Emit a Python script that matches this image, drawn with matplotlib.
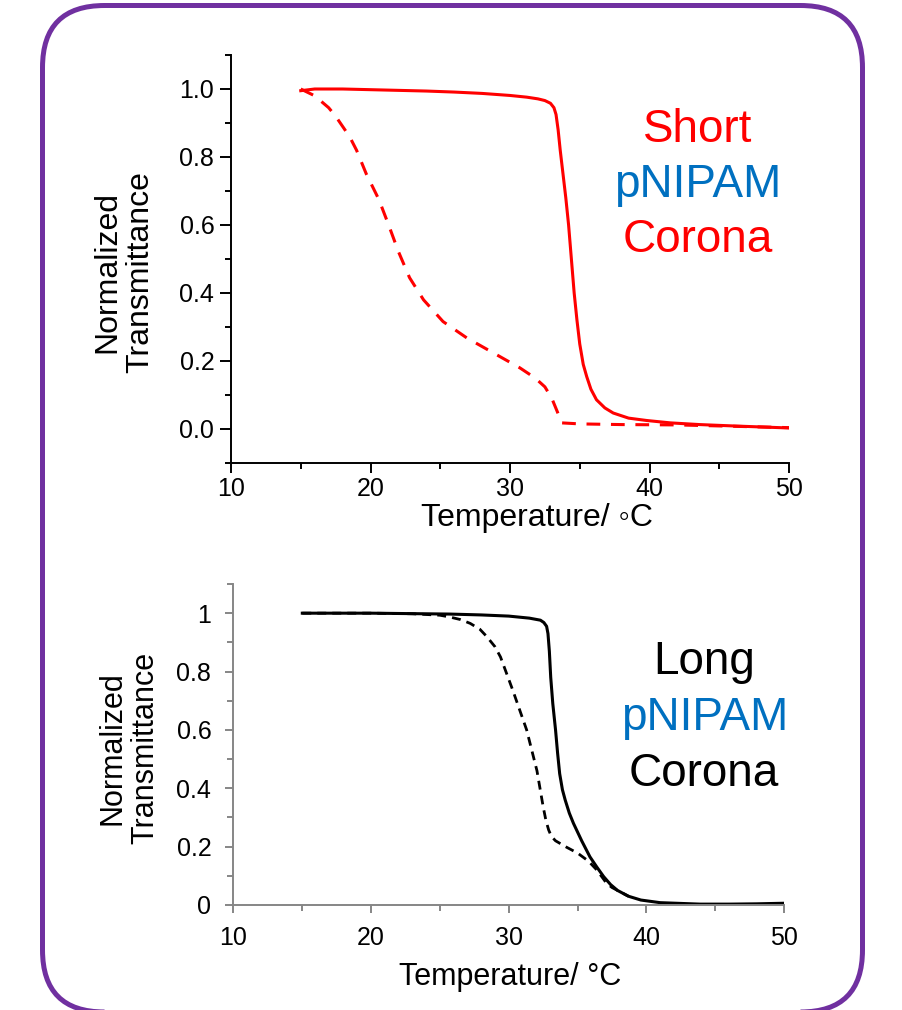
import numpy as np
import matplotlib
matplotlib.use("Agg")
import matplotlib.pyplot as plt
from matplotlib.patches import FancyBboxPatch
from matplotlib.ticker import MultipleLocator, FuncFormatter

plt.rcParams['font.family'] = ['Liberation Sans', 'DejaVu Sans']

# kisa korona: surekli (isitma) ve kesikli (sogutma) egriler
kisa_T_duz = [15, 16, 18, 20, 22, 24, 26, 28, 30, 31.2, 32.0, 32.5, 32.9, 33.15, 33.3, 33.45,
              33.6, 33.8, 34.0, 34.2, 34.4, 34.6, 34.8, 35.0, 35.25, 35.5, 35.8, 36.2, 36.8,
              37.4, 38.5, 39.8, 41.5, 43.6, 46, 48, 50]
kisa_deger_duz = [0.995, 1.0, 1.0, 0.998, 0.996, 0.994, 0.991, 0.987, 0.981, 0.976, 0.971,
                  0.966, 0.958, 0.945, 0.925, 0.88, 0.82, 0.75, 0.68, 0.60, 0.50, 0.40, 0.32,
                  0.25, 0.19, 0.154, 0.117, 0.086, 0.062, 0.047, 0.032, 0.025, 0.018, 0.013,
                  0.009, 0.006, 0.003]

kisa_T_kesik = [15, 16, 17, 17.5, 18.5, 19.0, 19.7, 20.6, 21.3, 22.0, 22.8, 23.8, 25.2, 26.9,
                28.8, 30.7, 31.8, 32.5, 33.0, 33.4, 33.7, 35, 38, 42, 46, 50]
kisa_deger_kesik = [1.0, 0.98, 0.945, 0.92, 0.86, 0.82, 0.75, 0.675, 0.60, 0.522, 0.445,
                    0.38, 0.316, 0.268, 0.224, 0.18, 0.15, 0.124, 0.09, 0.05, 0.018, 0.015,
                    0.013, 0.012, 0.008, 0.004]

# uzun korona
uzun_T_duz = [15, 20, 25.7, 28, 30, 31.5, 32.3, 32.55, 32.75, 32.85, 32.95, 33.05, 33.2,
              33.4, 33.55, 33.7, 33.9, 34.1, 34.4, 34.7, 35.3, 35.9, 36.4, 36.9, 37.4, 37.9,
              38.7, 39.6, 41, 43.9, 46, 48, 50]
uzun_deger_duz = [1.0, 1.0, 0.997, 0.994, 0.99, 0.983, 0.976, 0.968, 0.955, 0.93, 0.87,
                  0.78, 0.69, 0.60, 0.52, 0.45, 0.395, 0.36, 0.315, 0.28, 0.22, 0.165, 0.13,
                  0.097, 0.07, 0.05, 0.03, 0.017, 0.008, 0.003, 0.003, 0.004, 0.006]

uzun_T_kesik = [15, 20, 23, 25, 25.7, 26.5, 27.2, 27.9, 28.4, 29.0, 29.4, 30.3, 31.3, 32.05,
                32.5, 32.7, 32.9, 33.1, 33.4, 34.2, 35.0, 35.8, 36.4, 37.1, 37.5, 37.9, 38.7]
uzun_deger_kesik = [1.0, 1.0, 0.998, 0.993, 0.987, 0.978, 0.965, 0.945, 0.92, 0.885, 0.85,
                    0.735, 0.60, 0.46, 0.337, 0.29, 0.257, 0.235, 0.22, 0.198, 0.178, 0.15,
                    0.12, 0.075, 0.06, 0.05, 0.03]

KIRMIZI = '#ff0000'
MAVI = '#0070c0'
MOR = '#7030a0'
GRI = '#868686'

fig = plt.figure(figsize=(9.03, 10.1), dpi=100)

# cerceve (piksel koordinatli arka plan eksenleri, y yukari dogru)
arka = fig.add_axes([0, 0, 1, 1], zorder=-1)
arka.set_xlim(0, 903)
arka.set_ylim(0, 1010)
arka.axis('off')
arka.add_patch(FancyBboxPatch((42.5, -2), 820, 1006.5,
                              boxstyle="round,pad=0,rounding_size=62",
                              fill=False, edgecolor=MOR, linewidth=3.6))


def eksen_hazirla(ax, renk, ymin, ymax):
    ax.set_xlim(10, 50)
    ax.set_ylim(ymin, ymax)
    for s in ['top', 'right']:
        ax.spines[s].set_visible(False)
    for s in ['left', 'bottom']:
        ax.spines[s].set_color(renk)
        ax.spines[s].set_linewidth(1.4)
    ax.xaxis.set_major_locator(MultipleLocator(10))
    ax.xaxis.set_minor_locator(MultipleLocator(5))
    ax.yaxis.set_major_locator(MultipleLocator(0.2))
    ax.yaxis.set_minor_locator(MultipleLocator(0.1))
    ax.tick_params(which='both', direction='out', color=renk, width=1.4,
                   labelsize=18, labelcolor='black')
    ax.tick_params(which='major', length=7)
    ax.tick_params(which='minor', length=4)


# ust grafik
ax1 = fig.add_axes([231 / 903, 1 - 463 / 1010, 558 / 903, 408 / 1010])
eksen_hazirla(ax1, 'black', -0.1, 1.1)
ax1.tick_params(axis='y', which='major', length=8, pad=4)
ax1.tick_params(axis='x', pad=3)
ax1.yaxis.set_major_formatter(FuncFormatter(lambda v, p: f"{v:.1f}" if v > -0.05 else ""))
ax1.plot(kisa_T_duz, kisa_deger_duz, color=KIRMIZI, lw=2.2, solid_joinstyle='round')
ax1.plot(kisa_T_kesik, kisa_deger_kesik, color=KIRMIZI, lw=2.2, dashes=(4.5, 3.5))
ax1.set_xlabel('Temperature/ \u25e6C', fontsize=23)
ax1.xaxis.set_label_coords(0.548, -0.135)
ax1.xaxis.label.set_va('center')
ax1.set_ylabel('Normalized\nTransmittance', fontsize=23, linespacing=1.1)
ax1.yaxis.set_label_coords(-0.192, 0.468)
ax1.yaxis.label.set_va('center')

ax1.text(0.836, 0.817, 'Short', color=KIRMIZI, fontsize=33, ha='center', va='center',
         transform=ax1.transAxes)
ax1.text(0.836, 0.682, 'pNIPAM', color=MAVI, fontsize=33, ha='center', va='center',
         transform=ax1.transAxes)
ax1.text(0.836, 0.547, 'Corona', color=KIRMIZI, fontsize=33, ha='center', va='center',
         transform=ax1.transAxes)

# alt grafik
ax2 = fig.add_axes([233.5 / 903, 1 - 905 / 1010, 550.5 / 903, 321 / 1010])
eksen_hazirla(ax2, GRI, 0, 1.1)
ax2.tick_params(which='major', length=6)
ax2.tick_params(axis='y', pad=10)
ax2.tick_params(axis='x', pad=9)
ax2.yaxis.set_major_formatter(FuncFormatter(lambda v, p: f"{v:g}"))
ax2.plot(uzun_T_duz, uzun_deger_duz, color='black', lw=2.2, solid_joinstyle='round')
ax2.plot(uzun_T_kesik, uzun_deger_kesik, color='black', lw=2.0, dashes=(3.2, 2.2))
ax2.set_xlabel('Temperature/ °C', fontsize=22)
ax2.xaxis.set_label_coords(0.502, -0.224)
ax2.xaxis.label.set_va('center')
ax2.set_ylabel('Normalized\nTransmittance', fontsize=22, linespacing=1.1)
ax2.yaxis.set_label_coords(-0.19, 0.489)
ax2.yaxis.label.set_va('center')

ax2.text(0.855, 0.756, 'Long', color='black', fontsize=33, ha='center', va='center',
         transform=ax2.transAxes)
ax2.text(0.855, 0.582, 'pNIPAM', color=MAVI, fontsize=33, ha='center', va='center',
         transform=ax2.transAxes)
ax2.text(0.855, 0.408, 'Corona', color='black', fontsize=33, ha='center', va='center',
         transform=ax2.transAxes)

fig.savefig('out.png', dpi=100, facecolor='white')
